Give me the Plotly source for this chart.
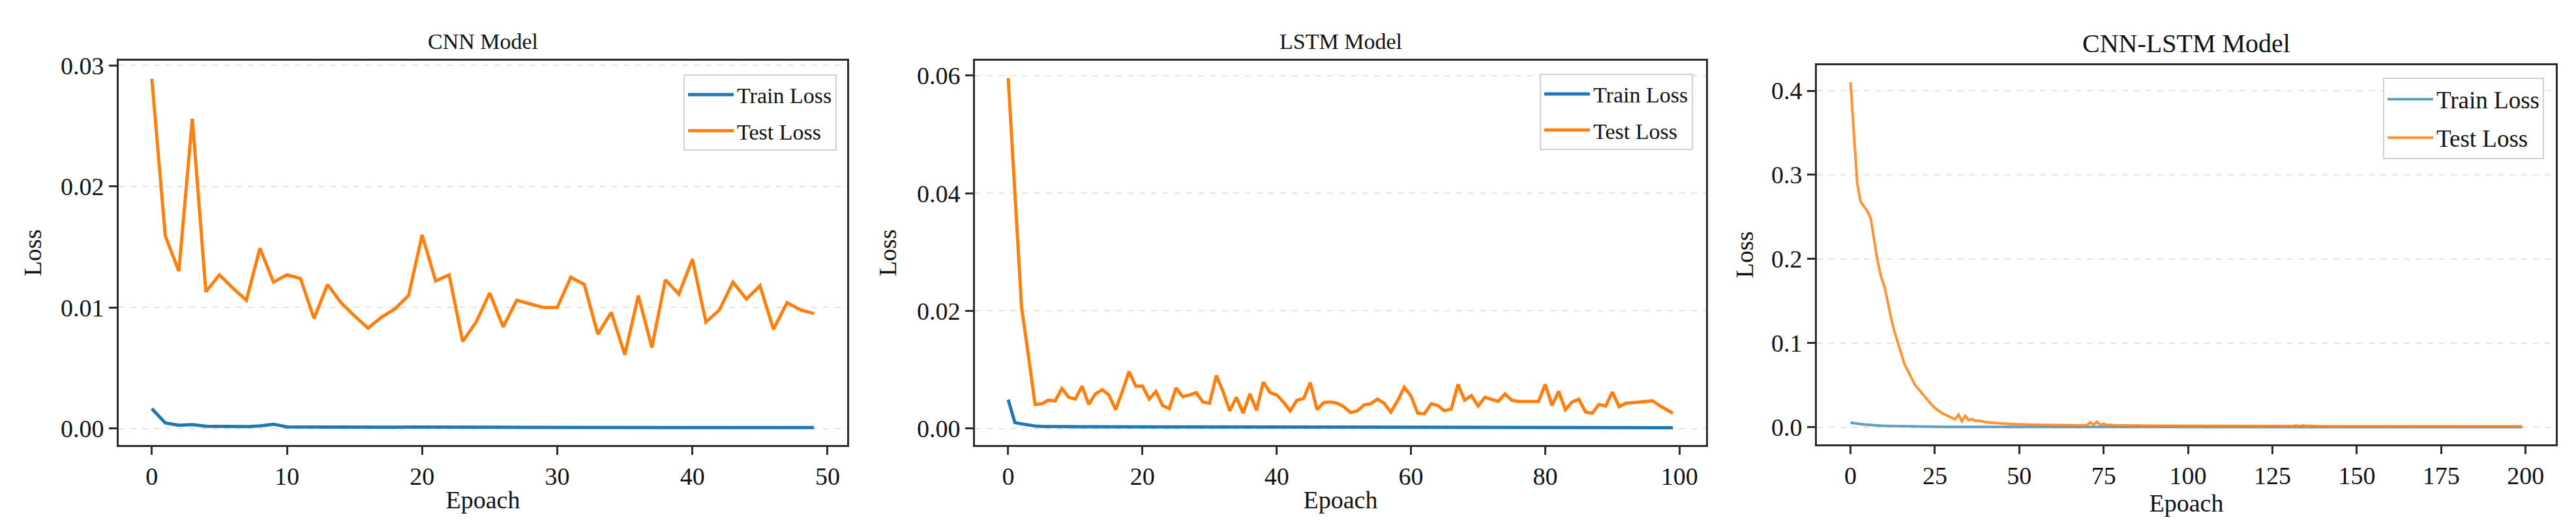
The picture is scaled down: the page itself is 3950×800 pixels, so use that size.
import plotly.graph_objects as go

W, H = 3950, 800
FONT = "Liberation Serif"

# ---------------- data ----------------
cnn_epochs = list(range(50))
cnn_train = [0.00165, 0.00047, 0.00027, 0.00033, 0.00020, 0.00017, 0.00018, 0.00016, 0.00022, 0.00036,
             0.00014, 0.00013, 0.00012, 0.00012, 0.00013, 0.00012, 0.00013, 0.00012, 0.00011, 0.00013,
             0.00012, 0.00011, 0.00010, 0.00012, 0.00011, 0.00010, 0.00010, 0.00011, 0.00010, 0.00010,
             0.00010, 0.00010, 0.00011, 0.00010, 0.00009, 0.00010, 0.00010, 0.00009, 0.00011, 0.00010,
             0.00009, 0.00009, 0.00010, 0.00009, 0.00009, 0.00010, 0.00009, 0.00008, 0.00008, 0.00008]
cnn_test = [0.0289, 0.0159, 0.0130, 0.0256, 0.0113, 0.0127, 0.0116, 0.0106, 0.0149, 0.0121,
            0.0127, 0.0124, 0.0091, 0.0119, 0.0104, 0.0093, 0.0083, 0.0092, 0.0099, 0.0110,
            0.0160, 0.0122, 0.0127, 0.0072, 0.0088, 0.0112, 0.0084, 0.0106, 0.0103, 0.0100,
            0.0100, 0.0125, 0.0119, 0.0078, 0.0096, 0.0061, 0.0110, 0.0067, 0.0123, 0.0111,
            0.0140, 0.0088, 0.0098, 0.0121, 0.0107, 0.0118, 0.0082, 0.0104, 0.0098, 0.0095]

lstm_epochs = list(range(100))
lstm_train = [0.00490, 0.00100, 0.00078, 0.00058, 0.00042, 0.00036, 0.00033, 0.00032, 0.00033, 0.00031,
              0.00030, 0.00030, 0.00029, 0.00029, 0.00029, 0.00028, 0.00028, 0.00028, 0.00028, 0.00027,
              0.00027, 0.00027, 0.00027, 0.00026, 0.00026, 0.00026, 0.00026, 0.00026, 0.00025, 0.00025,
              0.00025, 0.00025, 0.00025, 0.00024, 0.00024, 0.00024, 0.00024, 0.00024, 0.00023, 0.00023,
              0.00023, 0.00023, 0.00023, 0.00022, 0.00022, 0.00022, 0.00022, 0.00022, 0.00021, 0.00021,
              0.00021, 0.00021, 0.00021, 0.00020, 0.00020, 0.00020, 0.00020, 0.00020, 0.00020, 0.00019,
              0.00019, 0.00019, 0.00019, 0.00019, 0.00019, 0.00018, 0.00018, 0.00018, 0.00018, 0.00018,
              0.00018, 0.00017, 0.00017, 0.00017, 0.00017, 0.00017, 0.00017, 0.00017, 0.00016, 0.00016,
              0.00016, 0.00016, 0.00016, 0.00016, 0.00016, 0.00016, 0.00015, 0.00015, 0.00015, 0.00015,
              0.00015, 0.00015, 0.00015, 0.00015, 0.00015, 0.00014, 0.00014, 0.00014, 0.00014, 0.00014]
lstm_test = [0.0596, 0.0400, 0.0205, 0.0125, 0.0041, 0.0042, 0.0048, 0.0047, 0.0068, 0.0053,
             0.0050, 0.0072, 0.0041, 0.0059, 0.0066, 0.0057, 0.0032, 0.0063, 0.0097, 0.0072,
             0.0072, 0.0050, 0.0063, 0.0039, 0.0034, 0.0069, 0.0054, 0.0057, 0.0061, 0.0045,
             0.0043, 0.0090, 0.0063, 0.0030, 0.0053, 0.0026, 0.0059, 0.0031, 0.0079, 0.0061,
             0.0057, 0.0045, 0.0030, 0.0048, 0.0051, 0.0078, 0.0032, 0.0044, 0.0045, 0.0043,
             0.0037, 0.0027, 0.0030, 0.0040, 0.0042, 0.0050, 0.0043, 0.0028, 0.0047, 0.0070,
             0.0055, 0.0026, 0.0025, 0.0042, 0.0039, 0.0030, 0.0033, 0.0075, 0.0048, 0.0056,
             0.0038, 0.0053, 0.0050, 0.0046, 0.0059, 0.0048, 0.0046, 0.0046, 0.0046, 0.0046,
             0.0075, 0.0039, 0.0063, 0.0032, 0.0045, 0.0050, 0.0028, 0.0026, 0.0041, 0.0038,
             0.0062, 0.0037, 0.0043, 0.0044, 0.0044, 0.0045, 0.0047, 0.0039, 0.0032, 0.0026]

cl_epochs = list(range(200))
cl_train = [0.0055, 0.0047, 0.0042, 0.0037, 0.0033, 0.0029, 0.0026, 0.0023, 0.0020, 0.0018,
            0.0016, 0.0015, 0.0014, 0.0013, 0.0012, 0.0011, 0.0010, 0.0009, 0.0009, 0.0008,
            0.0008, 0.0007, 0.0007, 0.0007, 0.0006, 0.0006, 0.0006, 0.0006, 0.0005, 0.0005,
            0.0005, 0.0005, 0.0005, 0.0005, 0.0005, 0.0005, 0.0005, 0.0005, 0.0004, 0.0004,
            0.0004, 0.0004, 0.0004, 0.0004, 0.0004, 0.0004, 0.0004, 0.0004, 0.0004, 0.0004,
            0.0004, 0.0004, 0.0004, 0.0004, 0.0004, 0.0004, 0.0004, 0.0004, 0.0004, 0.0004,
            0.0004, 0.0004, 0.0004, 0.0004, 0.0004, 0.0003, 0.0003, 0.0003, 0.0003, 0.0003,
            0.0003, 0.0004, 0.0003, 0.0004, 0.0003, 0.0003, 0.0003, 0.0003, 0.0003, 0.0003,
            0.0003, 0.0003, 0.0003, 0.0003, 0.0003, 0.0003, 0.0003, 0.0003, 0.0003, 0.0003,
            0.0003, 0.0003, 0.0003, 0.0003, 0.0003, 0.0003, 0.0003, 0.0003, 0.0003, 0.0003,
            0.0003, 0.0003, 0.0003, 0.0003, 0.0003, 0.0003, 0.0003, 0.0003, 0.0003, 0.0003,
            0.0003, 0.0003, 0.0003, 0.0003, 0.0003, 0.0003, 0.0003, 0.0003, 0.0003, 0.0003,
            0.0003, 0.0003, 0.0003, 0.0003, 0.0003, 0.0003, 0.0003, 0.0003, 0.0003, 0.0003,
            0.0003, 0.0003, 0.0004, 0.0003, 0.0004, 0.0003, 0.0003, 0.0003, 0.0003, 0.0003,
            0.0002, 0.0002, 0.0002, 0.0002, 0.0002, 0.0002, 0.0002, 0.0002, 0.0002, 0.0002,
            0.0002, 0.0002, 0.0002, 0.0002, 0.0002, 0.0002, 0.0002, 0.0002, 0.0002, 0.0002,
            0.0002, 0.0002, 0.0002, 0.0002, 0.0002, 0.0002, 0.0002, 0.0002, 0.0002, 0.0002,
            0.0002, 0.0002, 0.0002, 0.0002, 0.0002, 0.0002, 0.0002, 0.0002, 0.0002, 0.0002,
            0.0002, 0.0002, 0.0002, 0.0002, 0.0002, 0.0002, 0.0002, 0.0002, 0.0002, 0.0002,
            0.0002, 0.0002, 0.0002, 0.0002, 0.0002, 0.0002, 0.0002, 0.0002, 0.0002, 0.0002]
cl_test = [0.410, 0.355, 0.290, 0.268, 0.262, 0.257, 0.248, 0.225, 0.198, 0.180,
           0.168, 0.150, 0.130, 0.114, 0.101, 0.088, 0.075, 0.067, 0.059, 0.051,
           0.046, 0.041, 0.036, 0.031, 0.027, 0.023, 0.020, 0.017, 0.015, 0.013,
           0.0110, 0.0095, 0.0148, 0.0072, 0.0135, 0.0085, 0.0098, 0.0075, 0.0080, 0.0068,
           0.0060, 0.0057, 0.0053, 0.0050, 0.0047, 0.0045, 0.0042, 0.0040, 0.0038, 0.0036,
           0.0034, 0.0033, 0.0032, 0.0031, 0.0030, 0.0029, 0.0028, 0.0027, 0.0027, 0.0026,
           0.0025, 0.0025, 0.0024, 0.0024, 0.0023, 0.0023, 0.0022, 0.0022, 0.0022, 0.0021,
           0.0024, 0.0058, 0.0030, 0.0066, 0.0028, 0.0042, 0.0026, 0.0030, 0.0024, 0.0023,
           0.0022, 0.0022, 0.0021, 0.0021, 0.0020, 0.0020, 0.0020, 0.0019, 0.0019, 0.0019,
           0.0018, 0.0018, 0.0018, 0.0018, 0.0017, 0.0017, 0.0017, 0.0017, 0.0016, 0.0016,
           0.0016, 0.0016, 0.0016, 0.0015, 0.0015, 0.0015, 0.0015, 0.0015, 0.0015, 0.0014,
           0.0014, 0.0014, 0.0014, 0.0014, 0.0014, 0.0014, 0.0013, 0.0013, 0.0013, 0.0013,
           0.0013, 0.0013, 0.0013, 0.0013, 0.0013, 0.0012, 0.0012, 0.0012, 0.0012, 0.0012,
           0.0012, 0.0014, 0.0021, 0.0013, 0.0024, 0.0014, 0.0018, 0.0012, 0.0012, 0.0012,
           0.0012, 0.0012, 0.0011, 0.0011, 0.0011, 0.0011, 0.0011, 0.0011, 0.0011, 0.0011,
           0.0011, 0.0011, 0.0011, 0.0011, 0.0011, 0.0011, 0.0011, 0.0011, 0.0010, 0.0010,
           0.0010, 0.0010, 0.0010, 0.0010, 0.0010, 0.0010, 0.0010, 0.0010, 0.0010, 0.0010,
           0.0010, 0.0010, 0.0010, 0.0010, 0.0010, 0.0010, 0.0010, 0.0010, 0.0010, 0.0010,
           0.0010, 0.0010, 0.0010, 0.0010, 0.0011, 0.0011, 0.0010, 0.0011, 0.0011, 0.0010,
           0.0011, 0.0010, 0.0011, 0.0011, 0.0010, 0.0010, 0.0010, 0.0010, 0.0010, 0.0010]

titles = ["CNN Model", "LSTM Model", "CNN-LSTM Model"]
series_names = ["Train Loss", "Test Loss"]
x_label = "Epoach"
y_label = "Loss"

# ---------------- layout helpers ----------------
BLUE = "#1f77b4"
ORANGE = "#ff7f0e"
AXC = "#2b2b2b"
TXT = "#111111"

# pixel boxes (left, top, right, bottom) of each plotting area
boxes = [(174, 73, 1291, 672), (1487, 73, 2608, 672), (2778, 80, 3911, 671)]
legend_boxes = [(1275, 95), (2588, 94), (3893, 100)]  # right, top
xranges = [[-2.45, 51.45], [-4.95, 103.95], [-9.95, 208.95]]
yranges = [[-0.00136, 0.0304], [-0.00282, 0.06257], [-0.0204, 0.4305]]
xdticks = [10, 20, 25]
ydticks = [0.01, 0.02, 0.1]
yformats = [".2f", ".2f", ".1f"]
title_sizes = [34, 34, 40]
legend_sizes = [34, 34, 37]
ystand = [18, 20, 16]
widths = [5, 5, 4]
train_op = [1.0, 1.0, 0.7]
test_op = [1.0, 1.0, 0.85]

data = [(cnn_epochs, cnn_train, cnn_test),
        (lstm_epochs, lstm_train, lstm_test),
        (cl_epochs, cl_train, cl_test)]

fig = go.Figure()
layout = dict(
    width=W, height=H,
    margin=dict(l=0, r=0, t=0, b=0),
    paper_bgcolor="white", plot_bgcolor="white",
    font=dict(family=FONT, color=TXT, size=38),
    annotations=[],
)

for i, (ep, tr, te) in enumerate(data):
    k = "" if i == 0 else str(i + 1)
    lg = "legend" + k
    xa, ya = "x" + k, "y" + k
    fig.add_trace(go.Scatter(x=ep, y=tr, mode="lines", name=series_names[0],
                             line=dict(color=BLUE, width=widths[i]), opacity=train_op[i],
                             xaxis=xa, yaxis=ya, legend=lg, legendgroup="train" + k))
    fig.add_trace(go.Scatter(x=ep, y=te, mode="lines", name=series_names[1],
                             line=dict(color=ORANGE, width=widths[i]), opacity=test_op[i],
                             xaxis=xa, yaxis=ya, legend=lg, legendgroup="test" + k))
    l, t, r, b = boxes[i]
    axis_common = dict(showline=True, linecolor=AXC, linewidth=3, mirror=True,
                       ticks="outside", ticklen=12, tickwidth=3, tickcolor=AXC,
                       tickfont=dict(family=FONT, size=38, color=TXT),
                       zeroline=False)
    layout["xaxis" + k] = dict(
        axis_common, domain=[l / W, r / W], anchor=ya, range=xranges[i],
        tick0=0, dtick=xdticks[i], showgrid=False,
        title=dict(text=x_label, font=dict(family=FONT, size=38, color=TXT), standoff=3),
    )
    layout["yaxis" + k] = dict(
        axis_common, domain=[1 - b / H, 1 - t / H], anchor=xa, range=yranges[i],
        tick0=0, dtick=ydticks[i], tickformat=yformats[i],
        showgrid=True, gridcolor="#e3e3e3", gridwidth=2, griddash="dash",
        title=dict(text=y_label, font=dict(family=FONT, size=38, color=TXT), standoff=ystand[i]),
    )
    lr, lt = legend_boxes[i]
    layout[lg] = dict(
        x=lr / W, y=1 - lt / H, xanchor="right", yanchor="top",
        xref="paper", yref="paper",
        bgcolor="rgba(255,255,255,0.85)", bordercolor="#d0d0d0", borderwidth=2,
        font=dict(family=FONT, size=legend_sizes[i], color=TXT),
        itemwidth=70, tracegroupgap=8,
    )
    layout["annotations"].append(dict(
        text=titles[i], x=(l + r) / 2 / W, y=1 - (43 if i < 2 else 46) / H,
        xref="paper", yref="paper", xanchor="center", yanchor="middle",
        showarrow=False, font=dict(family=FONT, size=title_sizes[i], color=TXT),
    ))

fig.update_layout(**layout)
fig.write_html("out.html")
